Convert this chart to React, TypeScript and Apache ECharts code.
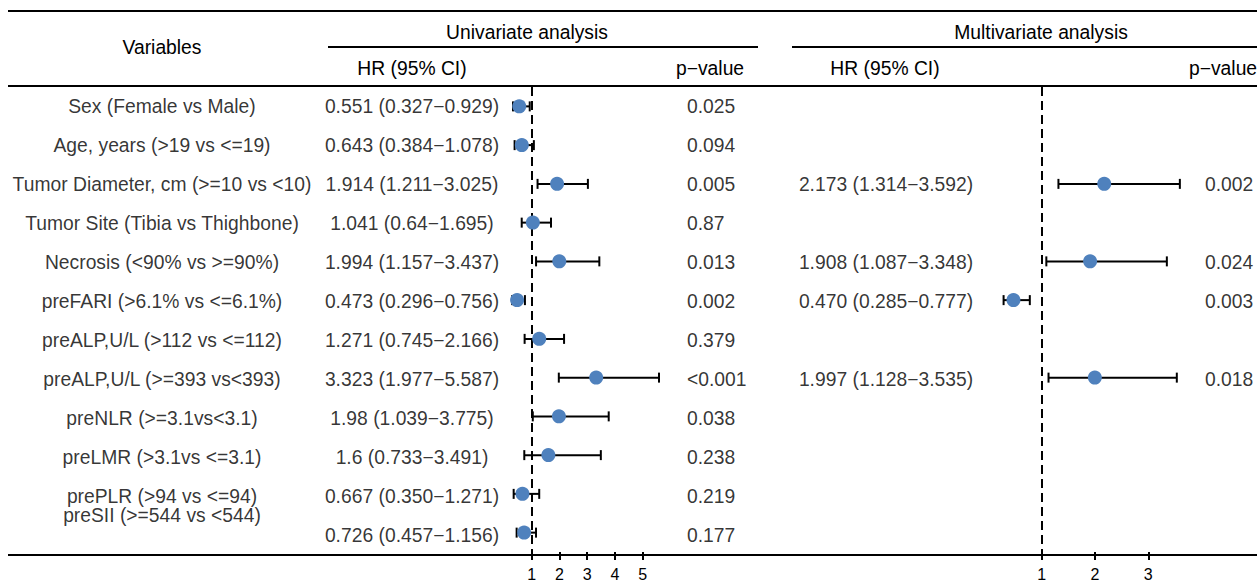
import React, { useEffect, useRef } from "react";
import * as echarts from "echarts";

const variables = [
  "Sex (Female vs Male)",
  "Age, years (>19 vs <=19)",
  "Tumor Diameter, cm (>=10 vs <10)",
  "Tumor Site (Tibia vs Thighbone)",
  "Necrosis (<90% vs >=90%)",
  "preFARI (>6.1% vs <=6.1%)",
  "preALP,U/L (>112 vs <=112)",
  "preALP,U/L (>=393 vs<393)",
  "preNLR (>=3.1vs<3.1)",
  "preLMR (>3.1vs <=3.1)",
  "prePLR (>94 vs <=94)",
  "preSII (>=544 vs <544)",
];

const uniHR = [0.551, 0.643, 1.914, 1.041, 1.994, 0.473, 1.271, 3.323, 1.98, 1.6, 0.667, 0.726];
const uniLow = [0.327, 0.384, 1.211, 0.64, 1.157, 0.296, 0.745, 1.977, 1.039, 0.733, 0.35, 0.457];
const uniHigh = [0.929, 1.078, 3.025, 1.695, 3.437, 0.756, 2.166, 5.587, 3.775, 3.491, 1.271, 1.156];
const uniText = [
  "0.551 (0.327−0.929)",
  "0.643 (0.384−1.078)",
  "1.914 (1.211−3.025)",
  "1.041 (0.64−1.695)",
  "1.994 (1.157−3.437)",
  "0.473 (0.296−0.756)",
  "1.271 (0.745−2.166)",
  "3.323 (1.977−5.587)",
  "1.98 (1.039−3.775)",
  "1.6 (0.733−3.491)",
  "0.667 (0.350−1.271)",
  "0.726 (0.457−1.156)",
];
const uniP = ["0.025", "0.094", "0.005", "0.87", "0.013", "0.002", "0.379", "<0.001", "0.038", "0.238", "0.219", "0.177"];

const multiHR = [null, null, 2.173, null, 1.908, 0.47, null, 1.997, null, null, null, null];
const multiLow = [null, null, 1.314, null, 1.087, 0.285, null, 1.128, null, null, null, null];
const multiHigh = [null, null, 3.592, null, 3.348, 0.777, null, 3.535, null, null, null, null];
const multiText = [null, null, "2.173 (1.314−3.592)", null, "1.908 (1.087−3.348)", "0.470 (0.285−0.777)", null, "1.997 (1.128−3.535)", null, null, null, null];
const multiP = [null, null, "0.002", null, "0.024", "0.003", null, "0.018", null, null, null, null];

const uniTicks = [1, 2, 3, 4, 5];
const multiTicks = [1, 2, 3];

const FONT = "'Liberation Sans', Arial, Helvetica, sans-serif";
const FS = 19.3;
const DOT = "#4F81BD";
const TOP = 87;
const HEIGHT = 468;

export default function App() {
  const ref = useRef<HTMLDivElement>(null);
  useEffect(() => {
    if (!ref.current) return;
    const chart = echarts.init(ref.current, null, { renderer: "svg" });

    const rowsY = { min: -0.5, max: 11.5, inverse: true, show: false, type: "value" as const };

    const errRender = (params: any, api: any) => {
      const y = api.value(2);
      const p1 = api.coord([api.value(0), y]);
      const p2 = api.coord([api.value(1), y]);
      const st = { stroke: "#000", lineWidth: 2 };
      return {
        type: "group",
        children: [
          { type: "line", shape: { x1: p1[0], y1: p1[1], x2: p2[0], y2: p2[1] }, style: st },
          { type: "line", shape: { x1: p1[0], y1: p1[1] - 5, x2: p1[0], y2: p1[1] + 5 }, style: st },
          { type: "line", shape: { x1: p2[0], y1: p2[1] - 5, x2: p2[0], y2: p2[1] + 5 }, style: st },
        ],
      };
    };

    const forestX = (gridIndex: number, min: number, max: number, ticks: number[]) => ({
      type: "value" as const,
      gridIndex,
      min,
      max,
      position: "bottom",
      axisLine: { show: false, onZero: false },
      splitLine: { show: false },
      axisTick: {
        show: true,
        customValues: ticks,
        length: 8,
        lineStyle: { color: "#000", width: 2 },
      },
      axisLabel: {
        show: true,
        customValues: ticks,
        margin: 14,
        color: "#000",
        fontSize: 16,
        fontFamily: FONT,
      },
    });

    const textSeries = (vals: (string | null)[], x: number, align: string, offsets?: Record<number, number[]>) => ({
      type: "scatter",
      xAxisIndex: 2,
      yAxisIndex: 2,
      symbolSize: 0,
      silent: true,
      itemStyle: { color: "transparent" },
      data: vals
        .map((t, i) => (t == null ? null : { value: [x, i], name: t, label: offsets && offsets[i] ? { offset: offsets[i] } : undefined }))
        .filter((d) => d != null),
      label: {
        show: true,
        position: "inside",
        align,
        verticalAlign: "middle",
        color: "#000",
        fontSize: FS,
        fontFamily: FONT,
        formatter: (p: any) => p.name,
      },
    });

    const multiIdx = multiHR.map((v, i) => (v == null ? -1 : i)).filter((i) => i >= 0);

    const hdr = (text: string, x: number, y: number, align = "center") => ({
      type: "text",
      x,
      y,
      silent: true,
      style: { text, fill: "#000", fontSize: FS, fontFamily: FONT, align, verticalAlign: "middle" },
    });
    const hline = (x1: number, x2: number, y: number) => ({
      type: "line",
      silent: true,
      shape: { x1, y1: y, x2, y2: y },
      style: { stroke: "#000", lineWidth: 2 },
    });

    chart.setOption({
      animation: false,
      backgroundColor: "#fff",
      grid: [
        { left: 503.95, width: 166.5, top: TOP, height: HEIGHT },
        { left: 988.4, width: 213.2, top: TOP, height: HEIGHT },
        { left: 0, width: 1257, top: TOP, height: HEIGHT },
      ],
      xAxis: [
        forestX(0, 0, 6, uniTicks),
        forestX(1, 0, 4, multiTicks),
        { type: "value", gridIndex: 2, min: 0, max: 1257, show: false },
      ],
      yAxis: [
        { ...rowsY, gridIndex: 0 },
        { ...rowsY, gridIndex: 1 },
        { ...rowsY, gridIndex: 2 },
      ],
      graphic: [
        hline(8, 1257, 11),
        hline(328, 758, 47),
        hline(792, 1257, 47),
        hline(8, 1257, 86),
        hline(8, 1257, 555),
        hdr("Variables", 162, 47),
        hdr("Univariate analysis", 527, 32),
        hdr("Multivariate analysis", 1041, 32),
        hdr("HR (95% CI)", 412, 68),
        hdr("p−value", 676, 68, "left"),
        hdr("HR (95% CI)", 885, 68),
        hdr("p−value", 1189, 68, "left"),
      ],
      series: [
        {
          type: "custom",
          xAxisIndex: 0,
          yAxisIndex: 0,
          renderItem: errRender,
          encode: { x: [0, 1], y: 2 },
          data: uniHR.map((_, i) => [uniLow[i], uniHigh[i], i]),
          z: 3,
        },
        {
          type: "scatter",
          xAxisIndex: 0,
          yAxisIndex: 0,
          symbolSize: 14,
          itemStyle: { color: DOT, opacity: 1 },
          data: uniHR.map((v, i) => [v, i]),
          z: 4,
          markLine: {
            silent: true,
            symbol: "none",
            label: { show: false },
            lineStyle: { color: "#000", width: 2, type: [9, 5] },
            data: [{ xAxis: 1 }],
            z: 2,
          },
        },
        {
          type: "custom",
          xAxisIndex: 1,
          yAxisIndex: 1,
          renderItem: errRender,
          encode: { x: [0, 1], y: 2 },
          data: multiIdx.map((i) => [multiLow[i], multiHigh[i], i]),
          z: 3,
        },
        {
          type: "scatter",
          xAxisIndex: 1,
          yAxisIndex: 1,
          symbolSize: 14,
          itemStyle: { color: DOT, opacity: 1 },
          data: multiIdx.map((i) => [multiHR[i], i]),
          z: 4,
          markLine: {
            silent: true,
            symbol: "none",
            label: { show: false },
            lineStyle: { color: "#000", width: 2, type: [9, 5] },
            data: [{ xAxis: 1 }],
            z: 2,
          },
        },
        textSeries(variables, 162, "center", { 11: [0, -20] }),
        textSeries(uniText, 412, "center"),
        textSeries(uniP, 687, "left"),
        textSeries(multiText, 886, "center"),
        textSeries(multiP, 1205, "left"),
      ],
    });
    return () => chart.dispose();
  }, []);
  return (
    <div
      ref={ref}
      style={{ position: "fixed", left: 0, top: 0, width: 1257, height: 582, background: "#fff" }}
    />
  );
}
